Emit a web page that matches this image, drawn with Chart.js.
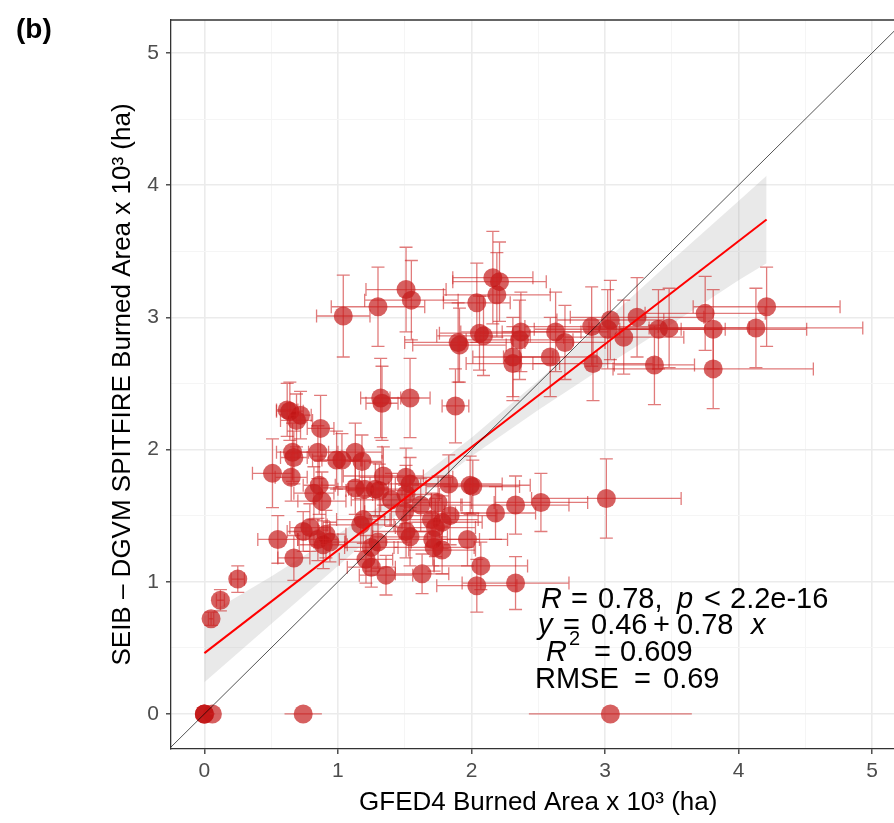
<!DOCTYPE html>
<html><head><meta charset="utf-8">
<script src="https://cdn.jsdelivr.net/npm/chart.js@4.4.1/dist/chart.umd.min.js"></script>
<style>
html,body{margin:0;padding:0;background:#fff;overflow:hidden;width:894px;height:823px}
#wrap{width:915px;height:823px}
</style></head>
<body><div id="wrap"><canvas id="c" width="915" height="823"></canvas></div>
<script>
// ---- data ----
const xVals = [
  1.04,1.30,1.51,1.55,1.32,1.33,1.54,1.88,1.90,1.91,2.04,2.06,2.09,2.16,2.21,2.19,2.31,2.31,2.36,2.37,
  2.59,2.63,2.70,2.90,2.91,3.02,3.04,3.14,3.24,3.37,3.40,3.48,3.75,3.81,3.81,4.13,4.21,
  0.62,0.64,0.69,0.72,0.87,0.66,0.67,0.51,0.65,0.85,0.99,1.03,1.13,1.18,0.86,0.82,0.88,1.13,1.20,1.28,
  1.34,1.31,1.51,1.54,1.51,1.50,1.83,1.99,2.01,2.18,2.33,2.52,3.01,1.40,1.62,1.75,
  0.55,0.67,0.74,0.79,0.85,0.89,0.94,0.91,1.17,1.19,1.25,1.30,1.21,1.25,1.36,1.51,1.54,1.63,1.70,1.73,
  1.71,1.72,1.78,1.84,1.78,1.97,2.07,2.04,2.33,
  0.25,0.12,0.05,0.00,0.00,0.00,0.06,0.74,3.04
];
const yVals = [
  3.01,3.08,3.21,3.13,2.39,2.35,2.39,2.33,2.81,2.79,3.11,2.88,2.86,3.30,3.27,3.17,2.70,2.65,2.83,2.89,
  2.70,2.89,2.81,2.93,2.65,2.91,2.98,2.85,3.00,2.64,2.91,2.92,3.03,2.91,2.61,2.92,3.08,
  2.30,2.29,2.22,2.26,2.16,1.98,1.94,1.82,1.79,1.98,1.92,1.92,1.98,1.91,1.73,1.67,1.61,1.71,1.70,1.70,
  1.80,1.69,1.79,1.74,1.66,1.53,1.74,1.73,1.72,1.52,1.58,1.60,1.63,1.62,1.58,1.60,
  1.32,1.18,1.38,1.41,1.32,1.28,1.30,1.36,1.43,1.47,1.26,1.30,1.17,1.11,1.05,1.38,1.34,1.06,1.47,1.41,
  1.32,1.26,1.45,1.50,1.24,1.32,1.12,0.97,0.99,
  1.02,0.86,0.72,0.00,0.00,0.00,0.00,0.00,0.00
];
const xErr = [
  0.20,0.35,0.30,0.35,0.15,0.12,0.15,0.10,0.40,0.35,0.25,0.30,0.35,0.30,0.35,0.40,0.30,0.35,0.40,0.45,
  0.35,0.40,0.30,0.50,0.45,0.55,0.40,0.45,0.50,0.30,0.50,0.60,0.45,0.70,0.75,0.80,0.55,
  0.08,0.10,0.12,0.08,0.10,0.12,0.10,0.15,0.12,0.15,0.18,0.15,0.20,0.15,0.12,0.15,0.18,0.25,0.20,0.20,
  0.30,0.25,0.35,0.30,0.25,0.30,0.40,0.45,0.35,0.30,0.40,0.35,0.56,0.30,0.30,0.25,
  0.15,0.12,0.12,0.15,0.15,0.18,0.12,0.15,0.25,0.20,0.20,0.25,0.20,0.18,0.20,0.25,0.28,0.20,0.35,0.30,
  0.35,0.30,0.30,0.35,0.25,0.30,0.35,0.30,0.40,
  0.05,0.03,0.02,0.00,0.00,0.00,0.02,0.14,0.61
];
const yErr = [
  0.31,0.30,0.32,0.30,0.30,0.28,0.30,0.28,0.30,0.28,0.30,0.28,0.30,0.35,0.30,0.32,0.30,0.28,0.30,0.30,
  0.30,0.30,0.28,0.30,0.28,0.30,0.30,0.28,0.30,0.30,0.30,0.30,0.28,0.30,0.30,0.30,0.30,
  0.20,0.22,0.20,0.18,0.25,0.22,0.20,0.26,0.18,0.20,0.22,0.20,0.22,0.20,0.22,0.20,0.22,0.20,0.22,0.20,
  0.22,0.20,0.22,0.20,0.22,0.20,0.22,0.22,0.20,0.20,0.22,0.22,0.30,0.20,0.20,0.20,
  0.18,0.17,0.15,0.18,0.16,0.18,0.15,0.18,0.20,0.18,0.18,0.20,0.18,0.15,0.15,0.20,0.22,0.15,0.20,0.22,
  0.20,0.18,0.20,0.22,0.18,0.20,0.18,0.20,0.20,
  0.10,0.08,0.05,0.00,0.00,0.00,0.00,0.00,0.00
];
// fitted regression line and its confidence band
const fitX = [0, 4.21];
const fitY = [0.46, 3.74];
const bandX  = [0, 0.5, 1, 1.5, 2, 2.5, 3, 3.5, 4, 4.21];
const bandLo = [0.24, 0.68, 1.12, 1.56, 1.95, 2.30, 2.63, 2.95, 3.28, 3.41];
const bandHi = [0.74, 1.04, 1.36, 1.70, 2.09, 2.52, 2.97, 3.43, 3.88, 4.07];
// 1:1 reference line
const oneX = [-0.3, 5.3];
const oneY = [-0.3, 5.3];
// gridline positions and tick labels
const gridVals = [0, 0.5, 1, 1.5, 2, 2.5, 3, 3.5, 4, 4.5, 5];
const xTickLabels = ['0','1','2','3','4','5'];
const yTickLabels = ['0','1','2','3','4','5'];
const xTitle = 'GFED4 Burned Area x 10\u00B3 (ha)';
const yTitle = 'SEIB \u2013 DGVM SPITFIRE Burned Area x 10\u00B3 (ha)';
const panelTag = '(b)';

// ---- drawing ----
const FONT = "'Liberation Sans', Arial, sans-serif";
const toXY = (xs, ys) => xs.map((x, i) => ({x: x, y: ys[i]}));

const errorBars = {
  id: 'errorBars',
  afterDatasetDraw(chart, args) {
    if (args.index !== 2) return;
    const {ctx, chartArea: a} = chart;
    const sx = chart.scales.x, sy = chart.scales.y;
    ctx.save();
    ctx.beginPath(); ctx.rect(a.left, a.top, a.right - a.left, a.bottom - a.top); ctx.clip();
    ctx.strokeStyle = 'rgba(205,35,35,0.6)';
    ctx.lineWidth = 1.3;
    const cap = 6.5;
    xVals.forEach((xv, i) => {
      const px = sx.getPixelForValue(xv), py = sy.getPixelForValue(yVals[i]);
      if (yErr[i] > 0) {
        const y1 = sy.getPixelForValue(yVals[i] - yErr[i]), y2 = sy.getPixelForValue(yVals[i] + yErr[i]);
        ctx.beginPath();
        ctx.moveTo(px, y1); ctx.lineTo(px, y2);
        ctx.moveTo(px - cap, y1); ctx.lineTo(px + cap, y1);
        ctx.moveTo(px - cap, y2); ctx.lineTo(px + cap, y2);
        ctx.stroke();
      }
      if (xErr[i] > 0) {
        const x1 = sx.getPixelForValue(xv - xErr[i]), x2 = sx.getPixelForValue(xv + xErr[i]);
        ctx.beginPath();
        ctx.moveTo(x1, py); ctx.lineTo(x2, py);
        if (yErr[i] > 0) {
          ctx.moveTo(x1, py - cap); ctx.lineTo(x1, py + cap);
          ctx.moveTo(x2, py - cap); ctx.lineTo(x2, py + cap);
        }
        ctx.stroke();
      }
    });
    ctx.restore();
  }
};

const frame = {
  id: 'frame',
  afterDraw(chart) {
    const {ctx, chartArea: a} = chart;
    ctx.save();
    ctx.strokeStyle = '#333333';
    ctx.lineWidth = 1.3;
    ctx.beginPath();
    ctx.moveTo(a.left, a.top); ctx.lineTo(a.right, a.top); ctx.lineTo(a.right, a.bottom);
    ctx.stroke();
    // panel tag
    ctx.fillStyle = '#000';
    ctx.font = "bold 28px " + FONT;
    ctx.textBaseline = 'alphabetic';
    ctx.textAlign = 'left';
    ctx.fillText(panelTag, 16, 38);
    // statistics annotation
    const reg = "29px " + FONT, it = "italic 29px " + FONT, sup = "20px " + FONT;
    const segs = [
      [it, 'R', 541, 608], [reg, '=', 571, 608], [reg, '0.78,', 598, 608], [it, 'p', 677, 608], [reg, '<', 704, 608], [reg, '2.2e-16', 730, 608],
      [it, 'y', 538, 634], [reg, '=', 563, 634], [reg, '0.46', 591, 634], [reg, '+', 653, 634], [reg, '0.78', 677, 634], [it, 'x', 751, 634],
      [it, 'R', 546, 661], [sup, '2', 569, 645], [reg, '=', 594, 661], [reg, '0.609', 620, 661],
      [reg, 'RMSE', 535, 688], [reg, '=', 634, 688], [reg, '0.69', 663, 688]
    ];
    segs.forEach(s => { ctx.font = s[0]; ctx.fillText(s[1], s[2], s[3]); });
    ctx.restore();
  }
};

const isInt = v => Math.abs(v - Math.round(v)) < 1e-9;
const setTicks = s => { s.ticks = gridVals.map(v => ({value: v})); };
const gridOpts = {
  color: c => (c.tick && isInt(c.tick.value)) ? '#ebebeb' : '#f5f5f5',
  lineWidth: c => (c.tick && isInt(c.tick.value)) ? 1.6 : 1,
  tickColor: c => (c.tick && isInt(c.tick.value)) ? '#333333' : 'rgba(0,0,0,0)',
  tickLength: 5, tickWidth: 1.3
};

new Chart(document.getElementById('c'), {
  type: 'scatter',
  data: {
    datasets: [
      {type: 'line', label: 'band low', data: toXY(bandX, bandLo), borderWidth: 0, pointRadius: 0, fill: false, order: 5},
      {type: 'line', label: 'band high', data: toXY(bandX, bandHi), borderWidth: 0, pointRadius: 0, fill: '-1',
       backgroundColor: 'rgba(153,153,153,0.22)', order: 4},
      {label: 'SEIB vs GFED4', data: toXY(xVals, yVals), pointRadius: 9.5, pointHoverRadius: 9.5,
       backgroundColor: 'rgba(195,20,20,0.68)', borderWidth: 0, order: 3},
      {type: 'line', label: 'fit', data: toXY(fitX, fitY), borderColor: '#ff0000', borderWidth: 2, pointRadius: 0, fill: false, order: 2},
      {type: 'line', label: '1:1', data: toXY(oneX, oneY), borderColor: 'rgba(0,0,0,0.85)', borderWidth: 0.8, pointRadius: 0, fill: false, order: 1}
    ]
  },
  options: {
    responsive: false,
    animation: false,
    devicePixelRatio: 1,
    layout: {padding: {top: 20, right: 7, left: 0, bottom: 0}},
    plugins: {legend: {display: false}, tooltip: {enabled: false}},
    scales: {
      x: {
        type: 'linear', min: -0.25, max: 5.25,
        afterBuildTicks: setTicks,
        afterFit(s) { s.height = 74; },
        ticks: {autoSkip: false, maxRotation: 0, minRotation: 0, padding: 5,
                color: '#4d4d4d', font: {family: FONT, size: 21},
                callback: v => isInt(v) ? (xTickLabels[Math.round(v)] ?? '') : ''},
        grid: gridOpts,
        border: {color: '#333333', width: 1.3},
        title: {display: true, text: xTitle, color: '#000', font: {family: FONT, size: 26}, padding: {top: 0, bottom: 5}}
      },
      y: {
        type: 'linear', min: -0.265, max: 5.249,
        afterBuildTicks: setTicks,
        afterFit(s) { s.width = 171; },
        ticks: {autoSkip: false, padding: 7,
                color: '#4d4d4d', font: {family: FONT, size: 21},
                callback: v => isInt(v) ? (yTickLabels[Math.round(v)] ?? '') : ''},
        grid: gridOpts,
        border: {color: '#333333', width: 1.3},
        title: {display: true, text: yTitle, color: '#000', font: {family: FONT, size: 26}, padding: {top: 107, bottom: 0}}
      }
    }
  },
  plugins: [errorBars, frame]
});
</script>
</body></html>
